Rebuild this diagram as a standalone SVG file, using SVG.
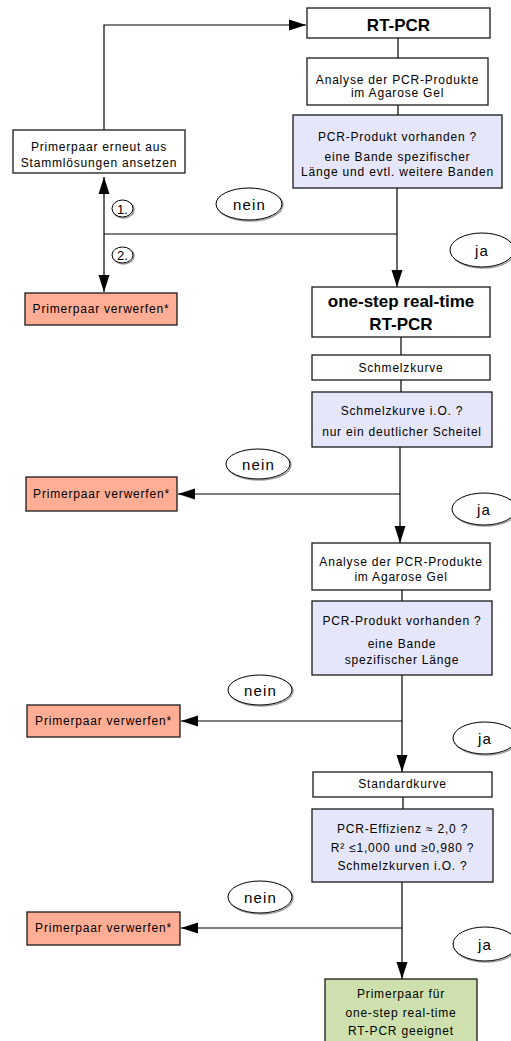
<svg xmlns="http://www.w3.org/2000/svg" width="511" height="1041" viewBox="0 0 511 1041">
<style>
.box{fill:#ffffff;stroke:#1a1a1a;stroke-width:1.3}
.q{fill:#e6e6fb;stroke:#1a1a1a;stroke-width:1.3}
.x{fill:#ffae95;stroke:#1a1a1a;stroke-width:1.3}
.ok{fill:#cde0ad;stroke:#1a1a1a;stroke-width:1.3}
.t{font-family:"Liberation Sans",Arial,sans-serif;font-size:12px;letter-spacing:0.8px;text-anchor:middle;fill:#000}
.b{font-family:"Liberation Sans",Arial,sans-serif;font-size:17px;font-weight:bold;text-anchor:middle;fill:#000}
.l{font-family:"Liberation Sans",Arial,sans-serif;font-size:15px;letter-spacing:1.2px;text-anchor:middle;fill:#000}
.n{font-family:"Liberation Sans",Arial,sans-serif;font-size:13px;text-anchor:middle;fill:#000}
.el{fill:#fff;stroke:#000;stroke-width:1}
.sh{fill:none;stroke:#999;stroke-width:1.4}
.c{fill:none;stroke:#000;stroke-width:1.2}
</style>
<defs>
<marker id="ah" markerWidth="17" markerHeight="12" refX="17" refY="6" orient="auto" markerUnits="userSpaceOnUse">
<path d="M0,0.5 L17,6 L0,11.5 z" fill="#000"/>
</marker>
</defs>

<g id="connectors">
<path class="c" d="M104,130 V25 H306" marker-end="url(#ah)"/>
<path class="c" d="M398,38 V58"/>
<path class="c" d="M398,105 V115"/>
<path class="c" d="M397,188 V287" marker-end="url(#ah)"/>
<path class="c" d="M397,234 H104"/>
<path class="c" d="M104,234 V177" marker-end="url(#ah)"/>
<path class="c" d="M104,234 V292" marker-end="url(#ah)"/>
<path class="c" d="M401,337 V355"/>
<path class="c" d="M401,380 V392"/>
<path class="c" d="M400,447 V543" marker-end="url(#ah)"/>
<path class="c" d="M400,494 H178" marker-end="url(#ah)"/>
<path class="c" d="M402,590 V601"/>
<path class="c" d="M402,675 V772" marker-end="url(#ah)"/>
<path class="c" d="M402,721 H181" marker-end="url(#ah)"/>
<path class="c" d="M403,797 V809"/>
<path class="c" d="M402,882 V979" marker-end="url(#ah)"/>
<path class="c" d="M402,928 H181" marker-end="url(#ah)"/>
</g>

<g id="rtpcr">
<rect class="box" x="307" y="8" width="183" height="30"/>
<text class="b" x="398.5" y="31">RT-PCR</text>
</g>
<g id="analyse1">
<rect class="box" x="307" y="58" width="181" height="47"/>
<text class="t" x="397.5" y="84">Analyse der PCR-Produkte</text>
<text class="t" x="397.5" y="97">im Agarose Gel</text>
</g>
<g id="frage1">
<rect class="q" x="293" y="115" width="209" height="73"/>
<text class="t" x="397.5" y="141">PCR-Produkt vorhanden ?</text>
<text class="t" x="397.5" y="160.5">eine Bande spezifischer</text>
<text class="t" x="397.5" y="176">Länge und evtl. weitere Banden</text>
</g>
<g id="erneut">
<rect class="box" x="13" y="130" width="172" height="43"/>
<text class="t" x="99" y="151">Primerpaar erneut aus</text>
<text class="t" x="99" y="167">Stammlösungen ansetzen</text>
</g>
<g id="verwerfen1">
<rect class="x" x="25" y="293" width="152" height="32"/>
<text class="t" x="101" y="313">Primerpaar verwerfen*</text>
</g>
<g id="label1">
<ellipse class="sh" cx="123.5" cy="209.5" rx="10.5" ry="8.5"/>
<ellipse class="el" cx="122.5" cy="208.5" rx="10.5" ry="8.5"/>
<text class="n" x="122.5" y="213.5">1.</text>
</g>
<g id="label2">
<ellipse class="sh" cx="123.5" cy="256" rx="10.5" ry="8"/>
<ellipse class="el" cx="122.5" cy="255" rx="10.5" ry="8"/>
<text class="n" x="122.5" y="260">2.</text>
</g>
<g id="nein1">
<ellipse class="sh" cx="250" cy="205" rx="33" ry="16"/>
<ellipse class="el" cx="249" cy="204" rx="33" ry="16"/>
<text class="l" x="249.5" y="209.5">nein</text>
</g>
<g id="ja1">
<ellipse class="sh" cx="483" cy="251" rx="32" ry="17"/>
<ellipse class="el" cx="482" cy="250" rx="32" ry="17"/>
<text class="l" x="482" y="256">ja</text>
</g>
<g id="onestep">
<rect class="box" x="312" y="287" width="178" height="50"/>
<text class="b" x="401" y="307">one-step real-time</text>
<text class="b" x="401" y="330">RT-PCR</text>
</g>
<g id="schmelzkurve">
<rect class="box" x="312" y="355" width="178" height="25"/>
<text class="t" x="401" y="372">Schmelzkurve</text>
</g>
<g id="frage2">
<rect class="q" x="312" y="392" width="180" height="55"/>
<text class="t" x="402" y="415">Schmelzkurve i.O. ?</text>
<text class="t" x="402" y="436">nur ein deutlicher Scheitel</text>
</g>
<g id="verwerfen2">
<rect class="x" x="26" y="477" width="151" height="34"/>
<text class="t" x="101.5" y="498">Primerpaar verwerfen*</text>
</g>
<g id="nein2">
<ellipse class="sh" cx="259" cy="465" rx="32" ry="15"/>
<ellipse class="el" cx="258" cy="464" rx="32" ry="15"/>
<text class="l" x="258.5" y="469.5">nein</text>
</g>
<g id="ja2">
<ellipse class="sh" cx="485" cy="510" rx="32" ry="16"/>
<ellipse class="el" cx="484" cy="509" rx="32" ry="16"/>
<text class="l" x="484" y="515">ja</text>
</g>
<g id="analyse2">
<rect class="box" x="312" y="543" width="178" height="47"/>
<text class="t" x="401" y="566">Analyse der PCR-Produkte</text>
<text class="t" x="401" y="581">im Agarose Gel</text>
</g>
<g id="frage3">
<rect class="q" x="312" y="601" width="180" height="74"/>
<text class="t" x="402" y="625">PCR-Produkt vorhanden ?</text>
<text class="t" x="402" y="648">eine Bande</text>
<text class="t" x="402" y="664">spezifischer Länge</text>
</g>
<g id="verwerfen3">
<rect class="x" x="27" y="705" width="153" height="32"/>
<text class="t" x="103.5" y="725">Primerpaar verwerfen*</text>
</g>
<g id="nein3">
<ellipse class="sh" cx="261" cy="691" rx="32" ry="15"/>
<ellipse class="el" cx="260" cy="690" rx="32" ry="15"/>
<text class="l" x="260.5" y="695.5">nein</text>
</g>
<g id="ja3">
<ellipse class="sh" cx="486" cy="739" rx="32" ry="16"/>
<ellipse class="el" cx="485" cy="738" rx="32" ry="16"/>
<text class="l" x="485" y="744">ja</text>
</g>
<g id="standardkurve">
<rect class="box" x="313" y="772" width="179" height="25"/>
<text class="t" x="402.5" y="788">Standardkurve</text>
</g>
<g id="frage4">
<rect class="q" x="312" y="809" width="181" height="73"/>
<text class="t" x="402.5" y="833">PCR-Effizienz ≈ 2,0 ?</text>
<text class="t" x="402.5" y="852">R² ≤1,000 und ≥0,980 ?</text>
<text class="t" x="402.5" y="870">Schmelzkurven i.O. ?</text>
</g>
<g id="verwerfen4">
<rect class="x" x="27" y="912" width="153" height="33"/>
<text class="t" x="103.5" y="932">Primerpaar verwerfen*</text>
</g>
<g id="nein4">
<ellipse class="sh" cx="261" cy="898" rx="32" ry="16"/>
<ellipse class="el" cx="260" cy="897" rx="32" ry="16"/>
<text class="l" x="260.5" y="902.5">nein</text>
</g>
<g id="ja4">
<ellipse class="sh" cx="486" cy="945" rx="32" ry="17"/>
<ellipse class="el" cx="485" cy="944" rx="32" ry="17"/>
<text class="l" x="485" y="950">ja</text>
</g>
<g id="geeignet">
<rect class="ok" x="325" y="979" width="152" height="70"/>
<text class="t" x="401" y="998">Primerpaar für</text>
<text class="t" x="401" y="1017">one-step real-time</text>
<text class="t" x="401" y="1035">RT-PCR geeignet</text>
</g>
</svg>
